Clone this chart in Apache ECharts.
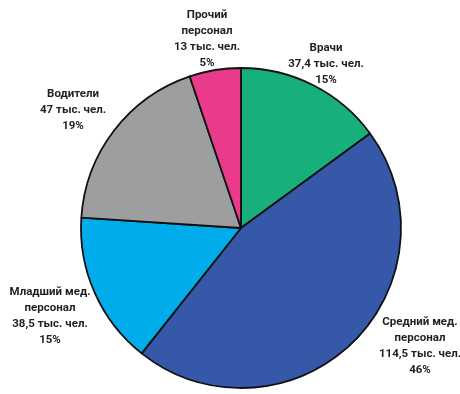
<!DOCTYPE html>
<html><head><meta charset="utf-8">
<script src="https://cdn.jsdelivr.net/npm/echarts@6/dist/echarts.min.js"></script>
<style>html,body{margin:0;padding:0;background:#fff}#c{width:460px;height:394px}</style>
</head><body><div id="c"></div>
<script>
const categories = ["Врачи", "Средний мед.\nперсонал", "Младший мед.\nперсонал", "Водители", "Прочий\nперсонал"];
const values = [37.4, 114.5, 38.5, 47, 13];
const percents = [15, 46, 15, 19, 5];
const colors = ["#17b07a", "#3558a8", "#00adea", "#9d9ea0", "#ea3a8c"];
const labelPos = [[326, 64], [420, 346], [50, 316], [73, 110], [207, 39]];

const chart = echarts.init(document.getElementById('c'), null, {renderer: 'canvas'});
const data = categories.map((n, i) => ({name: n, value: values[i], itemStyle: {color: colors[i]}}));
chart.setOption({
  animation: false,
  series: [{
    type: 'pie',
    center: [241, 228],
    radius: 160,
    startAngle: 90,
    clockwise: true,
    avoidLabelOverlap: false,
    itemStyle: {borderColor: '#111', borderWidth: 1.8},
    label: {
      show: true,
      position: 'outside',
      color: '#231f20',
      fontFamily: 'Roboto, sans-serif',
      fontWeight: 'bold',
      fontSize: 11.5,
      lineHeight: 16,
      align: 'center',
      overflow: 'none',
      formatter: p => {
        const i = p.dataIndex;
        return categories[i] + '\n' + String(values[i]).replace('.', ',') + ' тыс. чел.\n' + percents[i] + '%';
      }
    },
    labelLine: {show: false},
    labelLayout: p => ({x: labelPos[p.dataIndex][0], y: labelPos[p.dataIndex][1], align: 'center', verticalAlign: 'middle', moveOverlap: null}),
    data: data
  }]
});
</script></body></html>
